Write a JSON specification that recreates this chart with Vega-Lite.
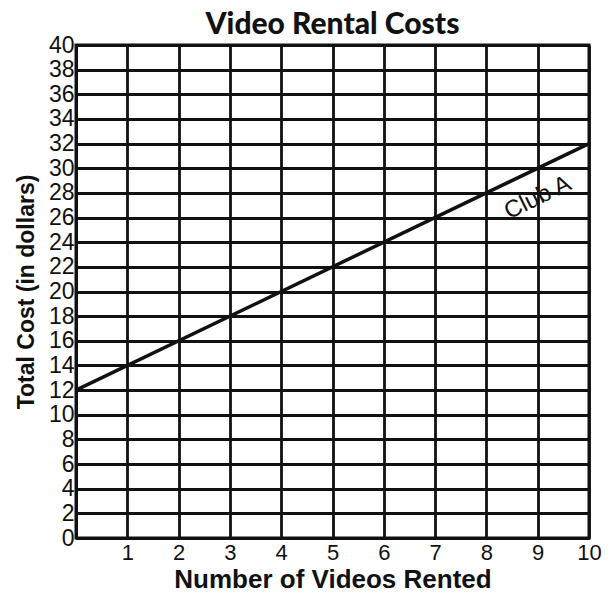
{
  "$schema": "https://vega.github.io/schema/vega-lite/v6.json",
  "autosize": "none",
  "width": 513,
  "height": 493,
  "padding": {"left": 76, "top": 45, "right": 22, "bottom": 59},
  "background": "white",
  "title": {
    "text": "Video Rental Costs",
    "font": "Lato",
    "fontWeight": 900,
    "fontSize": 30,
    "color": "#111",
    "anchor": "middle",
    "offset": -6
  },
  "config": {
    "view": {"stroke": "#111", "strokeWidth": 3}
  },
  "layer": [
    {
      "data": {"values": [
        {"videos": 0, "cost": 12, "club": "Club A"},
        {"videos": 10, "cost": 32, "club": "Club A"}
      ]},
      "mark": {"type": "line", "color": "#111", "strokeWidth": 3.5},
      "encoding": {
        "x": {
          "field": "videos", "type": "quantitative",
          "scale": {"domain": [0, 10], "nice": false},
          "axis": {
            "values": [0, 0.5, 1, 1.5, 2, 2.5, 3, 3.5, 4, 4.5, 5, 5.5, 6, 6.5, 7, 7.5, 8, 8.5, 9, 9.5, 10],
            "tickCount": 100,
            "format": "d",
            "labelExpr": "datum.value % 1 == 0 && datum.value > 0 ? datum.label : ''",
            "labelOverlap": false,
            "labelFlush": false,
            "grid": true, "gridColor": "#111", "gridWidth": 2.8, "gridOpacity": 1,
            "domain": true, "domainColor": "#111", "domainWidth": 3,
            "ticks": false,
            "labelFont": "Liberation Sans", "labelFontSize": 22, "labelColor": "#111", "labelPadding": 4,
            "title": "Number of Videos Rented",
            "titleFont": "Liberation Sans", "titleFontSize": 26, "titleFontWeight": "bold", "titleColor": "#111", "titlePadding": 3
          }
        },
        "y": {
          "field": "cost", "type": "quantitative",
          "scale": {"domain": [0, 40], "nice": false},
          "axis": {
            "values": [0, 2, 4, 6, 8, 10, 12, 14, 16, 18, 20, 22, 24, 26, 28, 30, 32, 34, 36, 38, 40],
            "tickCount": 100,
            "format": "d",
            "labelOverlap": false,
            "grid": true, "gridColor": "#111", "gridWidth": 2.8, "gridOpacity": 1,
            "domain": true, "domainColor": "#111", "domainWidth": 3,
            "ticks": false,
            "labelFont": "Liberation Sans", "labelFontSize": 23, "labelColor": "#111", "labelPadding": 2,
            "title": "Total Cost (in dollars)",
            "titleFont": "Liberation Sans", "titleFontSize": 23, "titleFontWeight": "bold", "titleColor": "#111", "titlePadding": 10
          }
        }
      }
    },
    {
      "data": {"values": [{"videos": 9.0, "cost": 27.6, "label": "Club A"}]},
      "mark": {"type": "text", "angle": -26, "fontSize": 24, "font": "Liberation Sans", "color": "#111", "align": "center", "baseline": "middle"},
      "encoding": {
        "x": {"field": "videos", "type": "quantitative"},
        "y": {"field": "cost", "type": "quantitative"},
        "text": {"field": "label"}
      }
    }
  ]
}
